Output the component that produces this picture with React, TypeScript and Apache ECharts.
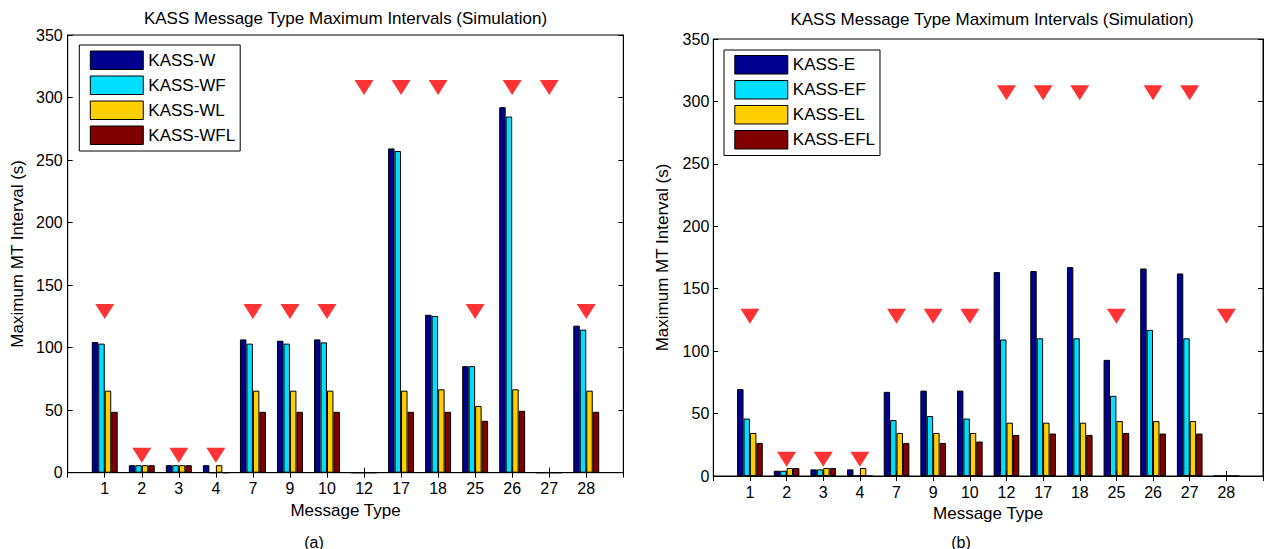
import React, { useEffect, useRef } from "react";
import * as echarts from "echarts";

const categoriesA = ["1", "2", "3", "4", "7", "9", "10", "12", "17", "18", "25", "26", "27", "28"];
const categoriesB = ["1", "2", "3", "4", "7", "9", "10", "12", "17", "18", "25", "26", "27", "28"];

const seriesNamesA = ["KASS-W", "KASS-WF", "KASS-WL", "KASS-WFL"];
const seriesNamesB = ["KASS-E", "KASS-EF", "KASS-EL", "KASS-EFL"];

const kassW = [104.5, 6, 6, 6, 106.6, 105.5, 106.6, 0, 259.3, 126.3, 85.2, 292.3, 0, 117.6];
const kassWF = [103.2, 6, 6, 0, 103.2, 103.2, 104.2, 0, 257.2, 125.3, 85.2, 284.8, 0, 114.4];
const kassWL = [65.6, 6, 6, 6, 65.6, 65.6, 65.6, 0, 65.6, 66.7, 53.4, 66.7, 0, 65.6];
const kassWFL = [48.7, 6, 6, 0, 48.7, 48.7, 48.7, 0, 48.7, 48.7, 41.5, 49.5, 0, 48.7];
const markersA = [129, 14, 14, 14, 129, 129, 129, 308, 308, 308, 129, 308, 308, 129];

const kassE = [69.6, 4.2, 5.3, 5.3, 67.4, 68.4, 68.4, 163.3, 164.2, 167.3, 93, 166.2, 162.2, 0];
const kassEF = [46, 4.2, 5.3, 0, 44.8, 48, 46, 109.3, 110.3, 110.3, 64.2, 117, 110.3, 0];
const kassEL = [34.5, 6.4, 6.4, 6.4, 34.5, 34.5, 34.5, 42.7, 42.7, 42.7, 44, 44, 44, 0];
const kassEFL = [26.5, 6.4, 6.4, 0, 26.5, 26.5, 27.6, 32.9, 34, 32.9, 34.5, 34, 34, 0];
const markersB = [128, 13.5, 13.5, 13.5, 128, 128, 128, 307, 307, 307, 128, 307, 307, 128];

const yTicks = { min: 0, max: 350, interval: 50 };

const colors = ["#00008F", "#00DFFF", "#FFCF00", "#800000"];
const FONT = "'Liberation Sans', Arial, Helvetica, sans-serif";

const pad = (arr: any[], fill: any) => [fill, ...arr, fill];

function buildOption() {
  const grids = [
    { left: 67.7, top: 35, width: 555.6, height: 437.7 },
    { left: 713.3, top: 39, width: 556.8, height: 437 },
  ];

  const xAxes: any[] = [];
  const yAxes: any[] = [];
  const cats = [categoriesA, categoriesB];
  [0, 1].forEach((g) => {
    const data = pad(cats[g], "");
    xAxes.push({
      type: "category",
      gridIndex: g,
      position: "bottom",
      data,
      boundaryGap: false,
      axisLine: { lineStyle: { color: "#000", width: 1 } },
      axisTick: { inside: true, length: 5, lineStyle: { color: "#000" } },
      axisLabel: { color: "#000", fontSize: 16, fontFamily: FONT, margin: 8, interval: 0 },
      name: "Message Type",
      nameLocation: "middle",
      nameGap: 28,
      nameTextStyle: { color: "#000", fontSize: 17, fontFamily: FONT },
      splitLine: { show: false },
    });
    xAxes.push({
      type: "category",
      gridIndex: g,
      position: "top",
      data,
      boundaryGap: false,
      axisLine: { lineStyle: { color: "#000", width: 1 } },
      axisTick: { inside: true, length: 5, lineStyle: { color: "#000" } },
      axisLabel: { show: false },
      splitLine: { show: false },
    });
    yAxes.push({
      type: "value",
      gridIndex: g,
      position: "left",
      ...yTicks,
      axisLine: { show: true, lineStyle: { color: "#000", width: 1 } },
      axisTick: { show: true, inside: true, length: 5, lineStyle: { color: "#000" } },
      axisLabel: { color: "#000", fontSize: 16, fontFamily: FONT, margin: g === 0 ? 5 : 4 },
      name: "Maximum MT Interval (s)",
      nameLocation: "middle",
      nameGap: 42,
      nameTextStyle: { color: "#000", fontSize: 17, fontFamily: FONT },
      splitLine: { show: false },
    });
    yAxes.push({
      type: "value",
      gridIndex: g,
      position: "right",
      ...yTicks,
      axisLine: { show: true, lineStyle: { color: "#000", width: 1 } },
      axisTick: { show: true, inside: true, length: 5, lineStyle: { color: "#000" } },
      axisLabel: { show: false },
      splitLine: { show: false },
    });
  });

  const valuesA = [kassW, kassWF, kassWL, kassWFL];
  const valuesB = [kassE, kassEF, kassEL, kassEFL];
  const series: any[] = [];
  const addBars = (names: string[], values: number[][], g: number) => {
    names.forEach((name, i) => {
      series.push({
        type: "bar",
        name,
        xAxisIndex: g * 2,
        yAxisIndex: g * 2,
        data: pad(values[i], "-"),
        barWidth: "17.5%",
        barGap: "0%",
        itemStyle: { color: colors[i], borderColor: "#000", borderWidth: 1 },
        z: 2,
      });
    });
  };
  addBars(seriesNamesA, valuesA, 0);
  addBars(seriesNamesB, valuesB, 1);
  const addMarkers = (vals: number[], g: number) => {
    series.push({
      type: "scatter",
      name: "markers" + g,
      xAxisIndex: g * 2,
      yAxisIndex: g * 2,
      data: pad(vals, "-"),
      symbol: "triangle",
      symbolRotate: 180,
      symbolSize: [19, 15],
      itemStyle: { color: "#FF0000" },
      z: 5,
    });
  };
  addMarkers(markersA, 0);
  addMarkers(markersB, 1);

  const legendCommon = {
    orient: "vertical",
    icon: "rect",
    itemWidth: 53,
    itemHeight: 18.5,
    itemGap: 5.5,
    borderColor: "#000",
    borderWidth: 1,
    backgroundColor: "#fff",
    borderRadius: 0,
    itemStyle: { borderColor: "#000", borderWidth: 1 },
    textStyle: { color: "#000", fontSize: 17, fontFamily: FONT },
    selectedMode: false,
  };

  const titleText = "KASS Message Type Maximum Intervals (Simulation)";

  return {
    animation: false,
    backgroundColor: "#fff",
    grid: grids.map((g) => ({ ...g, show: true, borderColor: "#000", borderWidth: 1, backgroundColor: "transparent" })),
    xAxis: xAxes,
    yAxis: yAxes,
    legend: [
      { ...legendCommon, data: seriesNamesA, left: 79.3, top: 45, padding: [5.5, 5, 6, 10.5] },
      { ...legendCommon, data: seriesNamesB, left: 724, top: 50, padding: [5, 5, 6, 10.3] },
    ],
    graphic: [
      { type: "text", x: 345.5, y: 18, style: { text: titleText, font: `17px ${FONT}`, fill: "#000", align: "center", verticalAlign: "middle" } },
      { type: "text", x: 992, y: 19, style: { text: titleText, font: `17px ${FONT}`, fill: "#000", align: "center", verticalAlign: "middle" } },
      { type: "text", x: 314, y: 542, style: { text: "(a)", font: `16px ${FONT}`, fill: "#000", align: "center", verticalAlign: "middle" } },
      { type: "text", x: 961, y: 542, style: { text: "(b)", font: `16px ${FONT}`, fill: "#000", align: "center", verticalAlign: "middle" } },
    ],
    series,
  };
}

export default function App() {
  const ref = useRef<HTMLDivElement>(null);
  useEffect(() => {
    if (!ref.current) return;
    const chart = echarts.init(ref.current, undefined, { renderer: "svg" });
    chart.setOption(buildOption() as any);
    return () => chart.dispose();
  }, []);
  return (
    <div
      ref={ref}
      style={{ position: "fixed", left: 0, top: 0, width: 1266, height: 549, background: "#fff" }}
    />
  );
}
